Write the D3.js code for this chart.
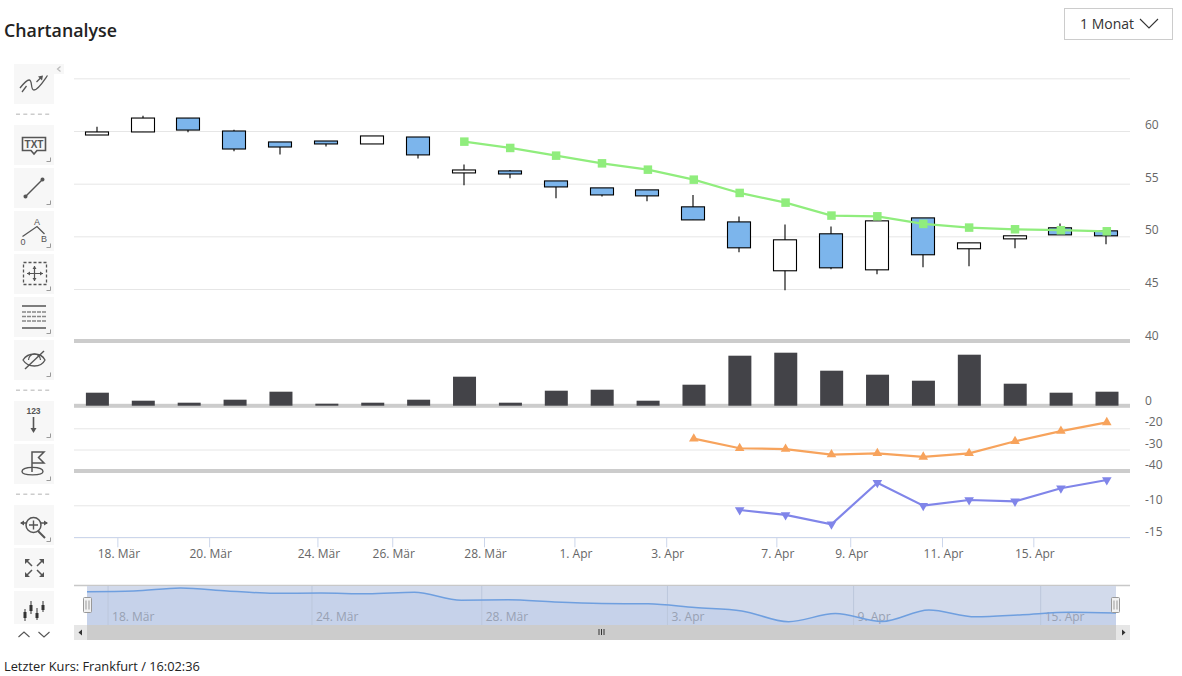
<!DOCTYPE html>
<html><head><meta charset="utf-8">
<script src="https://cdn.jsdelivr.net/npm/d3@7"></script>
<style>html,body{margin:0;padding:0;background:#fff}svg{display:block;font-family:"Open Sans",sans-serif}</style>
</head><body><svg id="c" width="1182" height="676"></svg>
<script>
const opens =[59.91,61.23,60.09,58.29,58.48,58.77,59.53,57.73,56.30,55.92,54.69,53.93,53.84,51.56,48.91,49.67,47.01,51.47,48.25,49.38,50.05,50.14,50.05];
const highs =[60.41,61.45,61.23,60.12,58.96,59.05,59.53,59.43,56.81,56.30,55.26,54.60,54.41,53.93,51.88,51.12,50.93,51.47,51.75,49.38,50.05,51.21,50.52];
const lows  =[59.62,59.91,59.87,58.07,57.78,58.54,58.77,57.40,54.84,55.51,53.61,53.77,53.33,51.56,48.49,44.89,46.88,46.41,47.07,47.17,48.87,50.14,49.25];
const closes=[59.62,59.91,61.23,60.00,58.96,59.05,58.77,59.43,56.02,56.21,55.26,54.60,54.41,52.80,51.37,46.73,50.24,46.82,51.75,48.82,49.76,50.81,50.52];
const smaValues=[58.99,58.39,57.66,56.93,56.33,55.38,54.12,53.20,51.97,51.90,51.18,50.83,50.67,50.58,50.48];
const smaStart=8;
const volumes=[13,5,3,6,14,2,3,6,29,3,15,16,5,21,50,53,35,31,25,51,22,13,14];
const oscA=[-24.9,-29.4,-29.8,-32.4,-31.8,-33.5,-31.8,-26.1,-21.3,-17.2];
const oscAStart=13;
const oscB=[-10.73,-11.5,-12.97,-6.47,-10.06,-9.17,-9.38,-7.34,-6.05];
const oscBStart=14;
const tickLabels=["18. Mär","20. Mär","24. Mär","26. Mär","28. Mär","1. Apr","3. Apr","7. Apr","9. Apr","11. Apr","15. Apr"];
const tickPos=[0.45,2.45,4.81,6.44,8.44,10.41,12.41,14.81,16.42,18.42,20.41];
const navLabels=["18. Mär","24. Mär","28. Mär","3. Apr","9. Apr","15. Apr"];
const navPos=[0.45,4.81,8.44,12.41,16.39,20.39];
const priceTicks=[65,60,55,50,45,40];
const oscATicks=[-20,-30,-40];
const oscBTicks=[-10,-15];

const svg=d3.select("#c");
const L=74,R=1130;
const idx=d3.range(opens.length);
const x=d3.scaleLinear().domain([0,22]).range([96.7,1106.3]);
const yP=d3.scaleLinear().domain([60,45]).range([131.0,289.0]);
const yV=d3.scaleLinear().domain([0,50]).range([405.7,355.7]);
const yA=d3.scaleLinear().domain([-20,-30]).range([428.3,449.5]);
const yB=d3.scaleLinear().domain([-10,-15]).range([505.3,537.3]);
const xN=d3.scaleLinear().domain([0,22]).range([87,1116]);
const yN=d3.scaleLinear().domain([60,45]).range([590.9,625.7]);

// title, footer, dropdown
svg.append("text").attr("x",4).attr("y",37).attr("font-size",17.8).attr("font-weight",600).attr("fill","#222").text("Chartanalyse");
svg.append("text").attr("x",4).attr("y",671).attr("font-size",12.8).attr("fill","#222").text("Letzter Kurs: Frankfurt / 16:02:36");
svg.append("rect").attr("x",1064.5).attr("y",8.5).attr("width",108).attr("height",31).attr("fill","#fff").attr("stroke","#ccc");
svg.append("text").attr("x",1080).attr("y",29).attr("font-size",14).attr("fill","#333").text("1 Monat");
svg.append("path").attr("d","M1140 19L1149 28L1158 19").attr("fill","none").attr("stroke","#333").attr("stroke-width",1.1);

// axes + grid
function yAxis(scale,vals,dy){
  const g=svg.append("g").attr("transform",`translate(${R},0)`)
    .call(d3.axisRight(scale).tickValues(vals).tickSize(-(R-L)).tickPadding(15).tickFormat(d=>d===65?"":d));
  g.select(".domain").remove();
  g.selectAll("line").attr("stroke","#e6e6e6");
  g.selectAll("text").attr("dy",dy).attr("font-size",12).attr("fill","#666").attr("font-family","'Open Sans',sans-serif");
  return g;
}
yAxis(yP,priceTicks,"-2.6");
yAxis(yA,oscATicks,"-2.4");
yAxis(yB,oscBTicks,"-2");
const yVg=svg.append("g").attr("transform",`translate(${R},0)`).call(d3.axisRight(yV).tickValues([0]).tickSize(0).tickPadding(15));
yVg.select(".domain").remove();
yVg.selectAll("text").attr("dy","-1.4").attr("font-size",12).attr("fill","#666").attr("font-family","'Open Sans',sans-serif");

// separators
[341,405.8,471].forEach(y=>svg.append("rect").attr("x",L).attr("y",y-2).attr("width",R-L).attr("height",4).attr("fill","#cccccc"));

// x axis
const xAx=svg.append("g").attr("transform","translate(0,537.3)")
 .call(d3.axisBottom(x).tickValues(tickPos).tickSize(10).tickPadding(2).tickFormat((d,i)=>tickLabels[i]));
xAx.select(".domain").remove();
xAx.selectAll("line").attr("stroke","#ccd6eb");
xAx.selectAll("text").attr("dx",1).attr("font-size",12).attr("fill","#666").attr("font-family","'Open Sans',sans-serif");
svg.append("line").attr("x1",L).attr("x2",R).attr("y1",537.5).attr("y2",537.5).attr("stroke","#ccd6eb");

// candles
const W=23;
const cg=svg.append("g").selectAll("g").data(idx).join("g");
cg.append("line").attr("x1",i=>Math.round(x(i))).attr("x2",i=>Math.round(x(i)))
  .attr("y1",i=>yP(highs[i])).attr("y2",i=>yP(lows[i])).attr("stroke","#000").attr("stroke-width",1.1);
cg.append("rect").attr("x",i=>Math.round(x(i))-W/2).attr("width",W)
  .attr("y",i=>yP(Math.max(opens[i],closes[i])))
  .attr("height",i=>Math.abs(yP(opens[i])-yP(closes[i])))
  .attr("fill",i=>closes[i]>opens[i]?"#7cb5ec":"#fff").attr("stroke","#000").attr("stroke-width",1.1);

// sma
const sx=(d,i)=>x(i+smaStart)+.5;
svg.append("path").datum(smaValues).attr("fill","none").attr("stroke","#90ed7d").attr("stroke-width",2.2)
  .attr("d",d3.line().x(sx).y(d=>yP(d)));
svg.append("g").selectAll("rect").data(smaValues).join("rect").attr("x",(d,i)=>sx(d,i)-4.25).attr("y",d=>yP(d)-4.25)
  .attr("width",8.5).attr("height",8.5).attr("fill","#90ed7d");

// volume
svg.append("g").selectAll("rect").data(volumes).join("rect")
  .attr("x",(d,i)=>x(i)-10.8).attr("width",23).attr("y",d=>yV(d)).attr("height",d=>yV(0)-yV(d)).attr("fill","#434348");

// oscillators
function osc(vals,start,scale,color,sym,rot){
  const fx=(d,i)=>x(i+start)+.5;
  svg.append("path").datum(vals).attr("fill","none").attr("stroke",color).attr("stroke-width",2.2)
    .attr("d",d3.line().x(fx).y(d=>scale(d)));
  svg.append("g").selectAll("path").data(vals).join("path")
    .attr("d",d3.symbol(sym,40)).attr("fill",color)
    .attr("transform",(d,i)=>`translate(${fx(d,i)},${scale(d)}) rotate(${rot})`);
}
osc(oscA,oscAStart,yA,"#f7a35c",d3.symbolTriangle,0);
osc(oscB,oscBStart,yB,"#8085e9",d3.symbolTriangle,180);

// navigator
svg.append("line").attr("x1",L).attr("x2",R).attr("y1",585.5).attr("y2",585.5).attr("stroke","#c8c8c8").attr("stroke-width",1.5);
const NT=586,NB=625;
svg.append("rect").attr("x",87).attr("y",NT).attr("width",1029).attr("height",NB-NT).attr("fill","#d2daeb");
svg.append("path").datum(closes).attr("fill","#c6d2ea")
  .attr("d",d3.area().x((d,i)=>xN(i)).y0(NB).y1(d=>yN(d)).curve(d3.curveMonotoneX));
svg.append("g").selectAll("line").data(navPos).join("line").attr("x1",d=>xN(d)).attr("x2",d=>xN(d)).attr("y1",NT).attr("y2",NB).attr("stroke","#bcc7dc");
svg.append("g").selectAll("text").data(navLabels).join("text").attr("x",(d,i)=>xN(navPos[i])+4).attr("y",621)
  .attr("font-size",12).attr("fill","#98a1b3").text(d=>d);
svg.append("path").datum(closes).attr("fill","none").attr("stroke","#6f9fdf").attr("stroke-width",1.5)
  .attr("d",d3.line().x((d,i)=>xN(i)).y(d=>yN(d)).curve(d3.curveMonotoneX));
// scrollbar
svg.append("rect").attr("x",L).attr("y",625).attr("width",R-L).attr("height",15).attr("fill","#cccccc");
svg.append("rect").attr("x",L).attr("y",625).attr("width",13).attr("height",15).attr("fill","#e6e6e6");
svg.append("rect").attr("x",R-14).attr("y",625).attr("width",14).attr("height",15).attr("fill","#e6e6e6");
svg.append("path").attr("d","M82 629.5L78.5 632.5L82 635.5Z").attr("fill","#333");
svg.append("path").attr("d","M1122 629.5L1125.5 632.5L1122 635.5Z").attr("fill","#333");
[599,601.5,604].forEach(px=>svg.append("line").attr("x1",px).attr("x2",px).attr("y1",629).attr("y2",635).attr("stroke","#333"));
// handles
[87,1115].forEach(hx=>{
  const g=svg.append("g").attr("transform",`translate(${hx},0)`);
  g.append("rect").attr("x",-3.5).attr("y",597.5).attr("width",8).attr("height",15).attr("rx",1).attr("fill","#f2f2f2").attr("stroke","#999");
  g.append("path").attr("d","M-1 600.5V609.5M2 600.5V609.5").attr("stroke","#999").attr("fill","none");
});

// toolbar
const btnY=[64,125,168,211,254,297,340,401,444,505,548];
const tb=svg.append("g");
btnY.forEach((y,i)=>{
  tb.append("rect").attr("x",14).attr("y",y).attr("width",40).attr("height",40).attr("fill","#f7f7f7");
  if(i>0&&i<10) tb.append("path").attr("d",`M46.5 ${y+36.5}H50.5V${y+32.5}`).attr("fill","none").attr("stroke","#999");
});
tb.append("rect").attr("x",14).attr("y",591).attr("width",40).attr("height",33).attr("fill","#f7f7f7");
tb.append("rect").attr("x",54).attr("y",64).attr("width",10).attr("height",10).attr("fill","#f7f7f7");
tb.append("path").attr("d","M60.5 66.5L57.5 69L60.5 71.5").attr("fill","none").attr("stroke","#bbb").attr("stroke-width",1.2);
[114,390,494].forEach(y=>{for(let k=0;k<5;k++) tb.append("rect").attr("x",16+k*7.3).attr("y",y-.5).attr("width",4).attr("height",1.5).attr("fill","#ccc");});
const ic=(d,sw=1.4,fill="none")=>tb.append("path").attr("d",d).attr("fill",fill).attr("stroke",fill==="none"?"#555":"none").attr("stroke-width",sw);
const it=(s,px,py,fs,w=400)=>tb.append("text").attr("x",px).attr("y",py).attr("text-anchor","middle").attr("font-size",fs).attr("font-weight",w).attr("fill","#555").attr("font-family","'Liberation Sans',sans-serif").text(s);
// trend
ic("M20 88C24 83 27 80 29 80C33 80 30 90 34 90C38 90 43 82 47.5 75.5",1.3);
ic("M22 92L26.5 86",1.3);ic("M36.5 82L41 77.5",1.3);ic("M38 76.5L43 75.5L42 80.5Z",1,"#555");
// TXT
ic("M22.5 137.5H45.5V150.5H37L34 154L31 150.5H22.5Z",1.6);
it("TXT",34,147.5,10,700);
// line
ic("M25.5 196.5L42.5 179.5",1.5);ic("M25.5 194.5a2 2 0 1 0 .01 0",1,"#555");ic("M42.5 177.5a2 2 0 1 0 .01 0",1,"#555");
// fibo
it("A",37,225,9);it("0",23,245,9);it("B",44,242,9);
ic("M22.5 236.5L37 226.5L44.5 234",1.3);
// move
tb.append("rect").attr("x",23.5).attr("y",262.5).attr("width",23).attr("height",22).attr("fill","none").attr("stroke","#555").attr("stroke-width",1.3).attr("stroke-dasharray","3 2");
ic("M27 273.5H43M34.5 266V281",1.2);ic("M27 273.5L30 271.5V275.5Z M43 273.5L40 271.5V275.5Z M34.5 266L32.5 269H36.5Z M34.5 281L32.5 278H36.5Z",1,"#555");
// table
ic("M22 306H46M22 328H46",1.6);
[312,316.5,321].forEach(y=>tb.append("line").attr("x1",22).attr("x2",46).attr("y1",y).attr("y2",y).attr("stroke","#888").attr("stroke-width",1.4).attr("stroke-dasharray","4 1"));
// eye
ic("M23 360C28 352 41 352 45 360C41 368 28 368 23 360Z",1.3);ic("M28.5 360a6 6 0 0 1 12 0",1.2);ic("M25 369L44 351",1.4);
// 123
it("123",33.5,414,8.5,700);ic("M33.5 417V431",1.6);ic("M33.5 433L30.5 428H36.5Z",1,"#555");
// flag
ic("M32 472V452H44L38.5 457.5L44 463H32",1.5);ic("M22 471.5C22 466 43 466 43 471.5C43 476 22 476 22 471.5Z",1.4);
// zoom
ic("M26 525a7.5 7.5 0 1 1 15 0a7.5 7.5 0 1 1 -15 0",1.5);ic("M38 531L45 538",2);ic("M33.5 520.5V529.5M29 525H38",1.4);
ic("M21 523H27M40 523H47",1.4);ic("M20 523L24 520.5V525.5Z M48 523L44 520.5V525.5Z",1,"#555");
// expand
ic("M27 561L32 566M42 561L37 566M27 575L32 570M42 575L37 570",1.5);
ic("M25 559H30L25 564Z M44 559H39L44 564Z M25 577H30L25 572Z M44 577H39L44 572Z",1,"#555");
// candles icon
[[25,609,621,612,618],[31,601,614,605,611],[37,608,620,613,618],[43,601,612,605,610]].forEach(c=>{
  ic(`M${c[0]} ${c[1]}V${c[2]}`,1.2);
  tb.append("rect").attr("x",c[0]-1.5).attr("y",c[3]).attr("width",3).attr("height",c[4]-c[3]).attr("fill","#333");
});
// up/down
ic("M18.5 637L24 632L29.5 637",1.1);ic("M38.5 632L44 637L49.5 632",1.1);
</script></body></html>
